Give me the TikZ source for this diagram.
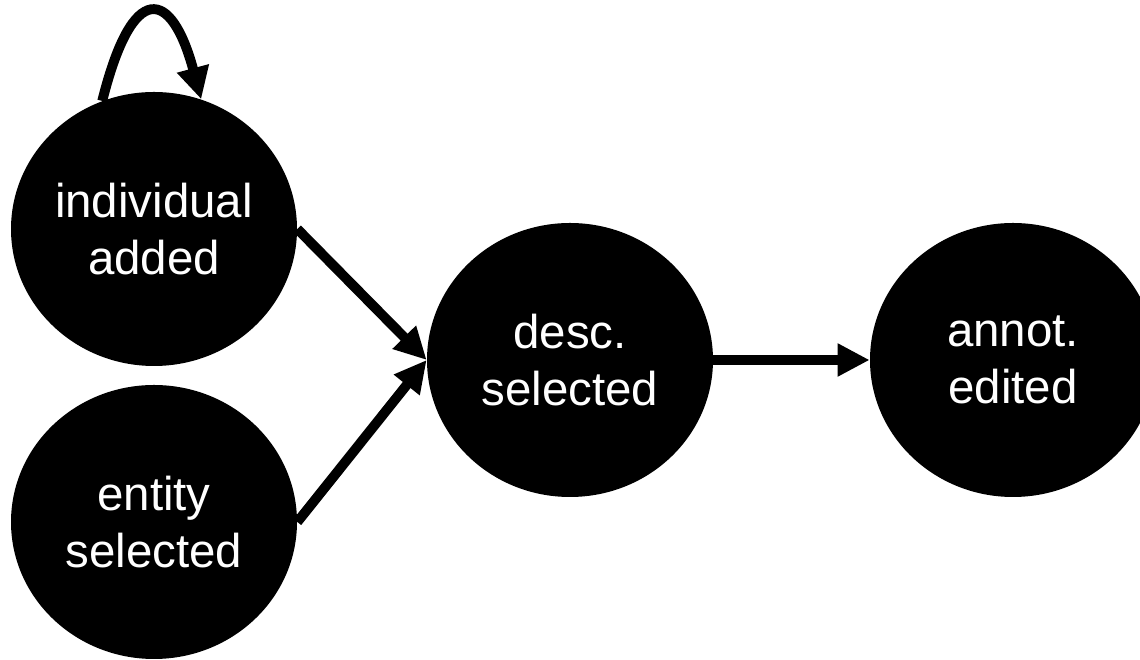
\documentclass[tikz,border=0pt]{standalone}
\usepackage{fontspec}
\setmainfont{Liberation Sans}
\usetikzlibrary{math,shapes.geometric,arrows.meta}

\begin{document}
\begin{tikzpicture}[
    evt/.style={ellipse, fill=black, text=white, inner sep=0pt,
      minimum width=5.72cm, minimum height=5.48cm, align=center,
      font=\fontsize{27}{32.4}\selectfont},
    edge/.style={line width=5.6pt, -{Triangle[length=0.64cm,width=0.62cm]}}
  ]
  \tikzmath{%
    \lx = 3.08; \mx = 11.4; \rx = 20.26;
    \topy = 8.62; \boty = 2.76; \midy = 6.0;
  }
  \useasboundingbox (0,0) rectangle (22.8,13.2);

  \node[evt] (ind) at (\lx,\topy) {individual\\added};
  \node[evt] (ent) at (\lx,\boty) {entity\\selected};
  \node[evt] (desc) at (\mx,\midy) {desc.\\selected};
  \node[evt] (annot) at (\rx,\midy) {annot.\\edited};

  \draw[edge] (ind.112) .. controls +(76:2.5) and +(105:2.3) .. (ind.70);
  \draw[edge] (ind.east) -- (desc.west);
  \draw[edge] (ent.east) -- (desc.west);
  \draw[edge] (desc.east) -- (annot.west);
\end{tikzpicture}
\end{document}
